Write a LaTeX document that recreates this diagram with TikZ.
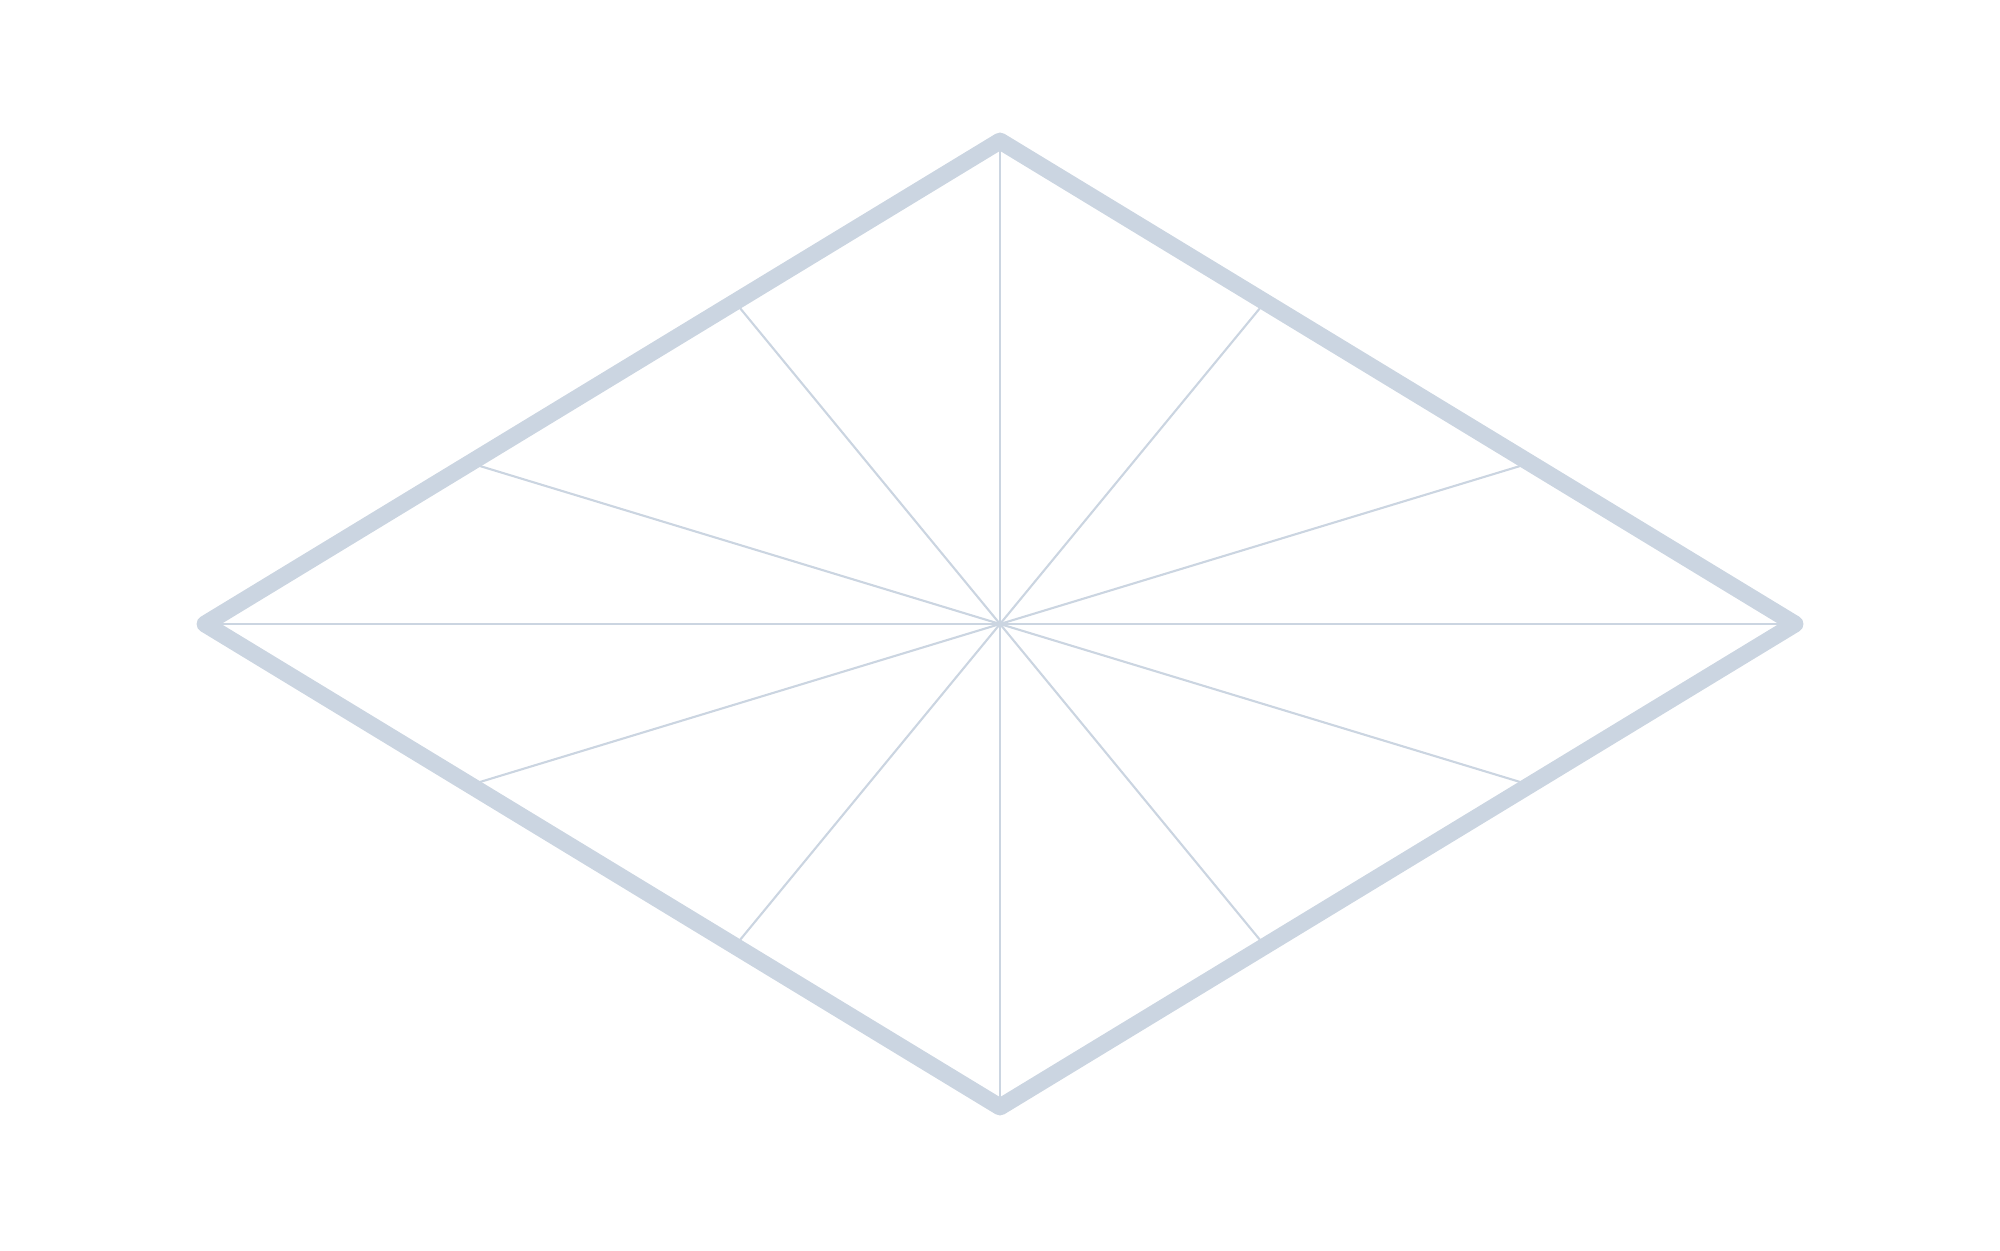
\documentclass[tikz,border=0pt]{standalone}
\usetikzlibrary{positioning, calc}

\definecolor{slategrey}{HTML}{CBD5E1}

\begin{document}
\begin{tikzpicture}[
        x=0.01cm, y=0.01cm,
        frame/.style={
            draw=slategrey, line width=4.8pt, line join=round
        },
        spoke/.style={
            draw=slategrey, line width=0.6pt
        },
    ]
        \useasboundingbox (0,0) rectangle (2000,1250);

        % Rhombus corners
        \coordinate (center) at (1000,626);
        \coordinate (west) at (205,626);
        \coordinate (east) at (1795,626);
        \coordinate (north) at (1000,1109);
        \coordinate (south) at (1000,143);

        % Spokes to the corners
        \draw [spoke] (west) -- (east);
        \draw [spoke] (north) -- (south);

        % Spokes to the thirds of each side
        \foreach \a/\b in {west/north, north/east, east/south, south/west} {
            \draw [spoke] (center) -- ($(\a)!1/3!(\b)$);
            \draw [spoke] (center) -- ($(\a)!2/3!(\b)$);
        }

        % Outline
        \draw [frame] (west) -- (north) -- (east) -- (south) -- cycle;
\end{tikzpicture}
\end{document}
